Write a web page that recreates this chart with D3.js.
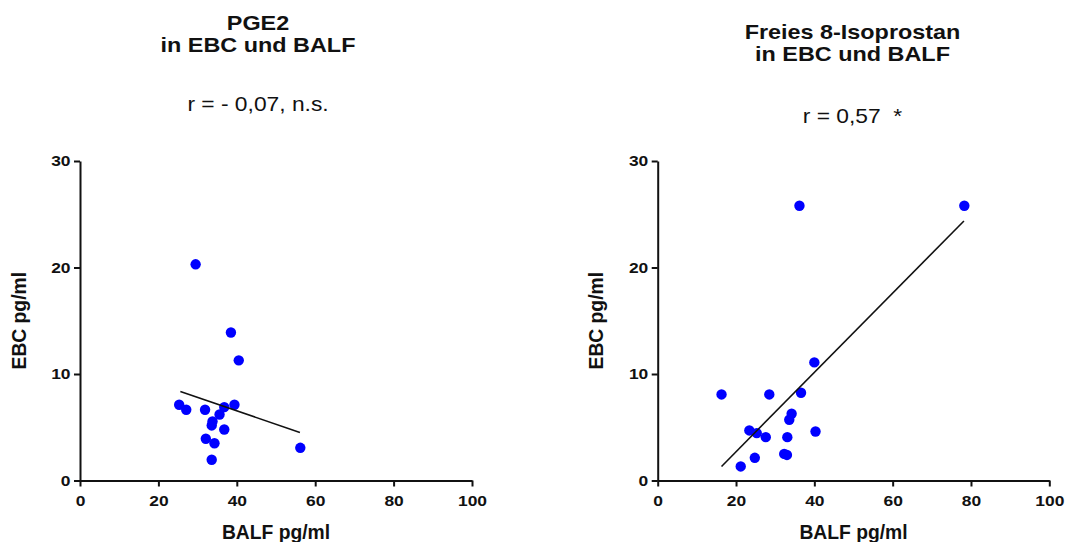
<!DOCTYPE html>
<html>
<head>
<meta charset="utf-8">
<script src="https://cdn.jsdelivr.net/npm/d3@7"></script>
<style>
  html, body { margin: 0; padding: 0; background: #fff; }
  svg { display: block; font-family: "Liberation Sans", Arial, Helvetica, sans-serif; }
</style>
</head>
<body>
<svg id="chart" width="1065" height="542"></svg>
<script>
// ---- data ----
const xTicks = [0, 20, 40, 60, 80, 100];
const yTicks = [0, 10, 20, 30];

const pgeTitle = ["PGE2", "in EBC und BALF"];
const pgeStat = "r = - 0,07, n.s.";
const pgeBALF = [25.3, 27.1, 29.5, 31.9, 32.1, 33.6, 33.8, 33.6, 34.3, 35.6, 36.8, 36.8, 38.5, 39.4, 40.5, 56.2];
const pgeEBC  = [7.11, 6.64, 20.3, 6.64, 3.92, 5.17, 5.55, 1.95, 3.5, 6.2, 6.89, 4.79, 13.9, 7.11, 11.28, 3.07];
const pgeFitX = [25.6, 56.1];
const pgeFitY = [8.36, 4.51];

const isoTitle = ["Freies 8-Isoprostan", "in EBC und BALF"];
const isoStat = "r = 0,57\u00a0\u00a0*";
const isoBALF = [16.3, 21.2, 23.4, 24.8, 25.3, 27.6, 28.5, 32.3, 33.0, 33.1, 33.6, 34.2, 36.2, 36.6, 40.0, 40.3, 78.3];
const isoEBC  = [8.08, 1.32, 4.7, 2.13, 4.45, 4.07, 8.08, 2.5, 2.4, 4.07, 5.7, 6.27, 25.8, 8.24, 11.09, 4.6, 25.8];
const isoFitX = [16.3, 78.2];
const isoFitY = [1.32, 24.37];

const xLabel = "BALF pg/ml";
const yLabel = "EBC pg/ml";

// ---- drawing ----
const svg = d3.select("#chart");

function panel(cfg) {
  const x = d3.scaleLinear().domain([0, 100]).range([cfg.x0, cfg.x1]);
  const y = d3.scaleLinear().domain([0, 30]).range([480.5, 161]);
  const cx = (cfg.x0 + cfg.x1) / 2;
  const g = svg.append("g");

  // titles
  cfg.title.forEach((t, i) => {
    g.append("text")
      .attr("transform", `translate(${cfg.titleX},${cfg.titleY + i * 22.5}) scale(1.17,1)`)
      .attr("text-anchor", "middle")
      .attr("font-weight", "bold")
      .attr("font-size", 20)
      .attr("fill", "#111")
      .text(t);
  });
  g.append("text")
    .attr("transform", `translate(${cfg.titleX},${cfg.statY}) scale(1.14,1)`)
    .attr("text-anchor", "middle")
    .attr("font-size", 20)
    .attr("fill", "#111")
    .text(cfg.stat);

  // axes
  const xa = g.append("g")
    .attr("transform", `translate(0,${y(0)})`)
    .call(d3.axisBottom(x).tickValues(xTicks).tickSize(6).tickSizeOuter(0));
  xa.selectAll("text")
    .attr("y", 25.5).attr("dy", 0)
    .attr("transform", "scale(1.2,1)");
  const ya = g.append("g")
    .attr("transform", `translate(${x(0)},0)`)
    .call(d3.axisLeft(y).tickValues(yTicks).tickSize(6).tickSizeOuter(0));
  ya.selectAll("text")
    .attr("x", -9.5 / 1.2)
    .attr("transform", "scale(1.2,1)");
  [xa, ya].forEach(a => {
    a.select(".domain").attr("stroke", "#111").attr("stroke-width", 2);
    a.selectAll(".tick line").attr("stroke", "#111").attr("stroke-width", 2);
    a.selectAll("text")
      .attr("font-family", "Liberation Sans, Arial, sans-serif")
      .attr("font-size", 14.5)
      .attr("font-weight", "bold")
      .attr("fill", "#111");
  });

  // axis labels
  g.append("text")
    .attr("x", cx).attr("y", 538.5)
    .attr("text-anchor", "middle")
    .attr("font-weight", "bold")
    .attr("font-size", 19.3)
    .attr("fill", "#111")
    .text(xLabel);
  g.append("text")
    .attr("transform", `translate(${cfg.yLabelX},${(y(0) + y(30)) / 2}) rotate(-90)`)
    .attr("text-anchor", "middle")
    .attr("font-weight", "bold")
    .attr("font-size", 19.3)
    .attr("fill", "#111")
    .text(yLabel);

  // points
  const pts = cfg.bx.map((v, i) => [v, cfg.ey[i]]);
  g.append("g").selectAll("circle")
    .data(pts).join("circle")
    .attr("cx", d => x(d[0]))
    .attr("cy", d => y(d[1]))
    .attr("r", 5.2)
    .attr("fill", "#0000ff");

  // regression line
  const fit = cfg.fx.map((v, i) => [v, cfg.fy[i]]);
  g.append("path")
    .datum(fit)
    .attr("d", d3.line().x(d => x(d[0])).y(d => y(d[1])))
    .attr("fill", "none")
    .attr("stroke", "#111")
    .attr("stroke-width", 1.6);
}

panel({ x0: 80, x1: 472, titleX: 258, title: pgeTitle, titleY: 29.5, stat: pgeStat, statY: 111,
        yLabelX: 26, bx: pgeBALF, ey: pgeEBC, fx: pgeFitX, fy: pgeFitY });
panel({ x0: 657.7, x1: 1049.3, titleX: 852.5, title: isoTitle, titleY: 38.5, stat: isoStat, statY: 122.5,
        yLabelX: 603, bx: isoBALF, ey: isoEBC, fx: isoFitX, fy: isoFitY });
</script>
</body>
</html>
